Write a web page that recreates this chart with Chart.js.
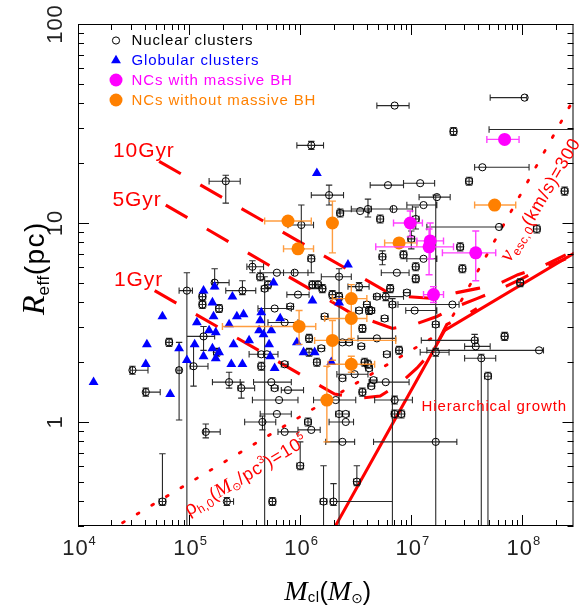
<!DOCTYPE html>
<html>
<head>
<meta charset="utf-8">
<title>Nuclear and globular clusters: size versus mass</title>
<script src="https://cdn.jsdelivr.net/npm/chart.js@4.4.1/dist/chart.umd.min.js"></script>
<style>
  html, body { margin: 0; padding: 0; background: #fff; }
  canvas { display: block; }
</style>
</head>
<body>
<canvas id="chart" width="580" height="615"></canvas>
<script>
// ---- Data: log10 of cluster mass (Msun) and effective radius (pc); errors in dex ----

// Nuclear clusters
const ncLogM = [4.49, 4.61, 4.76, 4.82, 4.91, 4.98, 5.04, 5.13, 5.12, 5.12,
  5.15, 5.23, 5.27, 5.25, 5.33, 5.34, 5.36, 5.47, 5.48, 5.57,
  5.64, 5.68, 5.71, 5.65, 5.70, 5.65, 5.66, 5.74, 5.77, 5.75,
  5.77, 5.79, 5.79, 5.81, 5.86, 5.86, 5.86, 5.89, 5.91, 5.95,
  5.98, 6.01, 6.00, 6.07, 6.10, 6.08, 6.08, 6.15, 6.10, 6.10,
  6.11, 6.16, 6.20, 6.19, 6.22, 6.21, 6.26, 6.29, 6.30, 6.32,
  6.35, 6.35, 6.35, 6.41, 6.36, 6.38, 6.38, 6.44, 6.38, 6.41,
  6.49, 6.51, 6.53, 6.54, 6.53, 6.62, 6.55, 6.56, 6.56, 6.58,
  6.61, 6.60, 6.61, 6.62, 6.64, 6.64, 6.66, 6.69, 6.69, 6.72,
  6.74, 6.76, 6.77, 6.77, 6.78, 6.79, 6.81, 6.84, 6.83, 6.85,
  6.85, 6.91, 6.85, 6.87, 6.89, 6.93, 6.96, 7.00, 7.03, 7.04,
  7.04, 7.04, 7.08, 7.11, 7.11, 7.23, 7.22, 7.22, 7.22, 7.37,
  7.38, 7.44, 7.46, 7.52, 7.57, 7.58, 7.63, 7.64, 7.69, 7.79,
  7.84, 7.98, 8.02, 8.13, 8.15, 8.38, 8.60];
const ncLogR = [0.26, 0.15, -0.40, 0.40, 0.26, 0.66, 0.28, 0.43, 0.63, 0.59,
  -0.05, 0.70, 0.57, 0.35, 1.21, -0.40, 0.20, 0.17, 0.66, 0.78,
  0.73, 0.67, 0.69, 0.34, 0.34, 0.28, 0.00, 0.20, 0.17, -0.40,
  0.57, 0.75, 0.04, 0.11, 0.50, 0.29, -0.05, 0.16, 0.58, 0.75,
  0.64, 0.99, -0.22, 0.00, -0.04, 0.42, 0.35, 0.30, 1.39, 0.82,
  0.69, 0.69, 0.67, 0.37, 0.53, -0.40, 1.14, 0.64, -0.40, 0.11,
  0.73, 0.63, 0.04, 0.04, 1.05, -0.10, 0.40, 0.40, 0.22, 0.00,
  0.24, -0.30, 0.68, 1.06, 0.56, 0.56, 0.38, 0.47, 0.15, 0.30,
  0.29, 0.59, 1.07, 0.27, 0.56, 0.18, 0.21, 0.63, 0.42, 1.02,
  0.83, 0.52, 0.63, 0.20, 0.34, 1.19, 0.67, 1.07, 0.59, 0.11,
  0.04, 0.04, 1.59, 0.75, 0.36, 0.84, 0.65, 0.92, 0.56, 1.02,
  0.78, 0.72, 1.20, 1.09, 0.82, 1.13, 0.49, 0.35, -0.10, 0.59,
  1.46, 0.88, 0.77, 1.21, 0.41, 0.38, 0.32, 1.28, 0.23, 0.98,
  0.43, 0.70, 1.63, 0.97, 0.36, 1.16, 1.47];
const ncErrMLo = [.02, .02, .03, .03, .02, .07, .03, .15, .03, .03,
  .02, .02, .03, .03, .15, .02, .15, .03, .15, .05,
  .03, .03, .03, .03, .16, .03, .16, .16, .03, .03,
  .15, .15, .15, .24, .15, .03, .06, .06, .03, .10,
  .10, .12, .03, .03, .12, .03, .03, .03, .13, .03,
  .03, .03, .03, .03, .03, .03, .16, .03, .03, .20,
  .16, .03, .03, .03, .03, .15, .03, .03, .03, .15,
  .16, .03, .10, .19, .03, .03, .03, .03, .03, .03,
  .03, .03, .15, .03, .03, .03, .03, .03, .17, .03,
  .03, .03, .09, .15, .03, .16, .03, .20, .03, .18,
  .03, .03, .16, .14, .03, .03, .03, .03, .08, .03,
  .03, .03, .15, .15, .15, .16, .03, .14, .56, .49,
  .03, .03, .03, .03, .48, .10, .15, .07, .03, .65,
  .03, .03, .31, .03, 1.01, .03, .90];
const ncErrMHi = [.14, .13, .03, .03, .02, .05, .13, .10, .03, .03,
  .13, .13, .03, .03, .13, .06, .10, .12, .12, .10,
  .03, .03, .03, .03, .10, .03, .12, .18, .03, .03,
  .15, .15, .13, .17, .12, .03, .12, .14, .03, .12,
  .10, .11, .03, .03, .08, .03, .03, .03, .11, .03,
  .03, .03, .03, .03, .03, .03, .13, .03, .53, .18,
  .11, .03, .03, .03, .03, .11, .03, .03, .03, .07,
  .12, .03, .09, .08, .03, .03, .03, .03, .03, .03,
  .03, .03, .22, .03, .03, .03, .03, .03, .17, .03,
  .03, .03, .16, .21, .03, .14, .03, .17, .03, .16,
  .03, .03, .13, .11, .03, .03, .03, .03, .20, .03,
  .03, .03, .13, .12, .12, .12, .03, .12, .19, .06,
  .03, .03, .03, .03, .03, .13, .13, .42, .03, .02,
  .03, .03, .02, .03, .04, .03, .02];
const ncErrRLo = [.02, .02, .02, .02, .25, 1.5, .10, .07, .02, .02,
  .03, .03, .02, .02, .11, .02, .03, .05, .02, .03,
  .02, 1.5, .02, 0, 0, .02, .04, 0, 0, .02,
  0, 0, 0, 0, 0, 0, 0, 0, 0, 0,
  0, .12, .02, .02, 0, .02, .02, .02, .02, .07,
  .02, .02, .02, 0, 0, .30, .05, .02, .02, 0,
  1.5, .02, 0, 0, .02, 0, 0, 0, 0, 0,
  0, .02, .02, 0, 0, .02, 0, .02, .02, .02,
  .02, 0, .04, 0, 0, 0, 0, 0, 0, .02,
  .04, 0, .02, 0, 0, 0, .02, 0, 1.5, .02,
  .02, .02, 0, 0, .02, .02, 0, .05, 0, .05,
  .02, .02, 0, 0, 0, 0, 1.5, .02, 0, 0,
  .02, .02, .02, .02, .03, 0, 1.5, 0, 1.5, 0,
  .02, .02, 0, .02, 0, .02, 0];
const ncErrRHi = [.02, .02, .24, .02, .14, .09, .10, .05, .02, .02,
  .04, .07, .02, .02, .03, .02, .05, .03, .05, .03,
  .02, .06, .02, 0, 0, .02, .03, 0, 0, .02,
  0, 0, 0, 0, 0, 0, 0, 0, 0, 0,
  0, .10, .12, .02, 0, .02, .02, .02, .02, .02,
  .02, .02, .02, 0, 0, .18, .05, .02, .09, 0,
  .04, .02, 0, 0, .02, 0, 0, 0, 0, 0,
  0, .08, .02, 0, 0, .02, 0, .02, .02, .02,
  .02, 0, .05, 0, 0, 0, 0, 0, 0, .02,
  .03, 0, .02, 0, 0, 0, .02, 0, .03, .02,
  .02, .02, 0, 0, .02, .02, 0, .04, 0, .06,
  .02, .02, 0, 0, 0, 0, .65, .02, 0, 0,
  .02, .02, .02, .02, .03, 0, .02, 0, .02, 0,
  .02, .02, 0, .02, 0, .02, 0];

// Globular clusters
const gcLogM = [4.14, 4.76, 4.62, 4.61, 4.83, 4.91, 4.98, 5.05, 5.07, 5.13,
  5.23, 5.21, 5.22, 5.18, 5.24, 5.13, 5.21, 5.27, 5.24, 5.39,
  5.36, 5.43, 5.49, 5.40, 5.54, 5.38, 5.48, 5.65, 5.64, 5.63,
  5.67, 5.74, 5.72, 5.73, 5.77, 5.82, 5.76, 6.03, 6.13, 5.97,
  6.11, 6.35, 6.28, 6.43, 6.15];
const gcLogR = [0.20, 0.53, 0.39, 0.29, 0.14, 0.37, 0.31, 0.39, 0.50, 0.66,
  0.68, 0.60, 0.53, 0.46, 0.45, 0.33, 0.37, 0.35, 0.32, 0.63,
  0.49, 0.53, 0.54, 0.39, 0.41, 0.29, 0.29, 0.55, 0.51, 0.46,
  0.44, 0.46, 0.39, 0.33, 0.27, 0.52, 0.70, 0.35, 0.35, 0.40,
  0.61, 0.60, 0.30, 0.79, 1.25];

// NCs hosting a massive black hole
const bhLogM = [7.84, 6.99, 7.17, 7.16, 7.58, 7.20];
const bhLogR = [1.42, 1.00, 0.91, 0.88, 0.85, 0.64];
const bhErrMLo = [0.16, 0.15, 0.12, 0.48, 0.30, 0.09];
const bhErrMHi = [0.13, 0.11, 0.12, 0.22, 0.18, 0.09];
const bhErrRLo = [0.02, 0.07, 0.09, 0.14, 0.14, 0.04];
const bhErrRHi = [0.02, 0.06, 0.09, 0.09, 0.11, 0.04];

// NCs without a massive black hole
const nbLogM = [5.89, 6.29, 5.98, 6.89, 7.75, 6.46, 6.46, 5.99, 6.29, 6.46, 6.24];
const nbLogR = [1.01, 1.00, 0.87, 0.90, 1.09, 0.62, 0.52, 0.48, 0.41, 0.29, 0.11];
const nbErrMLo = [0.21, 0.02, 0.13, 0.13, 0.18, 0.17, 0.24, 0.69, 0.16, 0.21, 0.02];
const nbErrMHi = [0.21, 0.02, 0.14, 0.16, 0.19, 0.14, 0.14, 0.15, 0.57, 0.21, 0.02];
const nbErrRLo = [0.02, 0.15, 0.02, 0.02, 0.02, 0.07, 0.10, 0.09, 0.10, 0.04, 0.21];
const nbErrRHi = [0.02, 0.11, 0.02, 0.02, 0.02, 0.07, 0.10, 0.08, 0.10, 0.04, 0.17];

// Relaxation-time tracks (1, 5, 10 Gyr)
const t10LogM = [4.73, 6.76, 6.96, 7.21, 7.41, 7.59, 7.77, 7.96, 8.17, 8.39];
const t10LogR = [1.31, 0.66, 0.63, 0.62, 0.65, 0.67, 0.69, 0.74, 0.78, 0.84];
const t5LogM = [4.79, 6.45, 6.63, 6.83, 7.03, 7.23, 7.41, 7.59, 7.77, 7.96, 8.17, 8.39];
const t5LogR = [1.09, 0.55, 0.51, 0.47, 0.49, 0.53, 0.58, 0.62, 0.66, 0.71, 0.77, 0.82];
const t1LogM = [4.69, 6.31, 6.54, 6.72, 6.89, 7.05, 7.21, 7.32, 7.50, 7.59];
const t1LogR = [0.66, 0.14, 0.12, 0.13, 0.19, 0.27, 0.37, 0.49, 0.54, 0.57];

// Hierarchical growth path, constant-density and constant-escape-velocity lines
const hierLogM = [6.29, 7.30, 8.50];
const hierLogR = [-0.55, 0.46, 0.86];
const rhoLogM = [4.27, 7.30];
const rhoLogR = [-0.55, 0.46];
const vescLogM = [7.30, 8.50];
const vescLogR = [0.46, 1.66];

// Axis decades
const xDecades = [4, 5, 6, 7, 8];
const yDecades = [0, 1, 2];

// ---- Drawing ----
const SANS = '"Liberation Sans", Arial, Helvetica, sans-serif';
const SERIF = '"Liberation Serif", "Times New Roman", serif';
const SYM = '"DejaVu Sans", sans-serif';
const RED = '#ff0000';

const pts = (lm, lr) => lm.map((m, i) => ({ x: Math.pow(10, m), y: Math.pow(10, lr[i]) }));

function lineSet(label, lm, lr, style) {
  return Object.assign({
    type: 'scatter', label, data: pts(lm, lr), showLine: true,
    pointRadius: 0, borderColor: RED, backgroundColor: RED,
    fill: false, tension: 0, clip: 0, order: 6
  }, style);
}

const errorBarPlugin = {
  id: 'errorBars',
  beforeDatasetDraw(chart, args) {
    const ds = chart.data.datasets[args.index];
    const e = ds.errorBars;
    if (!e) return;
    const { ctx, chartArea: a } = chart;
    const xs = chart.scales.x, ys = chart.scales.y;
    ctx.save();
    ctx.beginPath();
    ctx.rect(a.left, a.top, a.right - a.left, a.bottom - a.top);
    ctx.clip();
    ctx.strokeStyle = e.color;
    ctx.lineWidth = e.width;
    ctx.beginPath();
    const c = e.cap;
    ds.data.forEach((p, i) => {
      const lm = Math.log10(p.x), lr = Math.log10(p.y);
      const px = xs.getPixelForValue(p.x), py = ys.getPixelForValue(p.y);
      if (e.mLo[i] > 0 || e.mHi[i] > 0) {
        const x0 = xs.getPixelForValue(Math.pow(10, lm - e.mLo[i]));
        const x1 = xs.getPixelForValue(Math.pow(10, lm + e.mHi[i]));
        ctx.moveTo(x0, py); ctx.lineTo(x1, py);
        ctx.moveTo(x0, py - c); ctx.lineTo(x0, py + c);
        ctx.moveTo(x1, py - c); ctx.lineTo(x1, py + c);
      }
      if (e.rLo[i] > 0 || e.rHi[i] > 0) {
        const y0 = ys.getPixelForValue(Math.pow(10, lr - e.rLo[i]));
        const y1 = ys.getPixelForValue(Math.pow(10, lr + e.rHi[i]));
        ctx.moveTo(px, y0); ctx.lineTo(px, y1);
        ctx.moveTo(px - c, y0); ctx.lineTo(px + c, y0);
        ctx.moveTo(px - c, y1); ctx.lineTo(px + c, y1);
      }
    });
    ctx.stroke();
    ctx.restore();
  }
};

// text made of runs with different fonts / offsets
function runsWidth(ctx, runs) {
  let w = 0;
  for (const r of runs) {
    ctx.font = r.font; ctx.letterSpacing = r.ls || '0px';
    w += ctx.measureText(r.t).width;
  }
  return w;
}
function drawRuns(ctx, runs, x, y) {
  let cx = x;
  for (const r of runs) {
    ctx.font = r.font; ctx.letterSpacing = r.ls || '0px';
    ctx.fillText(r.t, cx, y + (r.dy || 0));
    cx += ctx.measureText(r.t).width;
  }
  ctx.letterSpacing = '0px';
}

const decorPlugin = {
  id: 'decor',
  afterDraw(chart) {
    const { ctx, chartArea: a } = chart;
    const xs = chart.scales.x, ys = chart.scales.y;
    ctx.save();

    // frame
    ctx.strokeStyle = '#000';
    ctx.lineWidth = 1;
    ctx.strokeRect(a.left + 0.5, a.top + 0.5, a.right - a.left - 1, a.bottom - a.top - 1);

    // inward ticks on all four sides
    ctx.beginPath();
    for (let e = 3; e <= 9; e++) {
      for (let k = 1; k <= 9; k++) {
        const v = k * Math.pow(10, e);
        if (v < xs.min * 0.999 || v > xs.max) continue;
        const px = Math.round(xs.getPixelForValue(v)) + 0.5;
        const len = k === 1 ? 11 : 6;
        ctx.moveTo(px, a.bottom); ctx.lineTo(px, a.bottom - len);
        ctx.moveTo(px, a.top); ctx.lineTo(px, a.top + len);
      }
    }
    for (let e = -1; e <= 2; e++) {
      for (let k = 1; k <= 9; k++) {
        const v = k * Math.pow(10, e);
        if (v < ys.min || v > ys.max * 1.001) continue;
        const py = Math.round(ys.getPixelForValue(v)) + 0.5;
        const len = k === 1 ? 11 : 6;
        ctx.moveTo(a.left, py); ctx.lineTo(a.left + len, py);
        ctx.moveTo(a.right, py); ctx.lineTo(a.right - len, py);
      }
    }
    ctx.stroke();

    // tick labels
    ctx.fillStyle = '#222';
    ctx.textBaseline = 'alphabetic';
    ctx.textAlign = 'left';
    for (const e of xDecades) {
      const px = xs.getPixelForValue(Math.pow(10, e));
      const runs = [
        { t: '10', font: '22px ' + SANS, ls: '1px' },
        { t: String(e), font: '13px ' + SANS, dy: -10 }
      ];
      const w = runsWidth(ctx, runs);
      drawRuns(ctx, runs, px - w / 2 + 1, 555);
    }
    ctx.font = '22px ' + SANS;
    ctx.letterSpacing = '1px';
    ctx.textAlign = 'center';
    for (const e of yDecades) {
      const py = ys.getPixelForValue(Math.pow(10, e));
      ctx.save();
      ctx.translate(61.5, py);
      ctx.rotate(-Math.PI / 2);
      ctx.fillText(String(Math.pow(10, e)), 0, 0);
      ctx.restore();
    }
    ctx.letterSpacing = '0px';
    ctx.textAlign = 'left';

    // axis titles
    ctx.fillStyle = '#000';
    const xt = [
      { t: 'M', font: 'italic 28px ' + SERIF },
      { t: 'cl', font: '15px ' + SANS, dy: 2, ls: '0.5px' },
      { t: '(', font: '25px ' + SANS },
      { t: 'M', font: 'italic 28px ' + SERIF },
      { t: '\u2299', font: '14px ' + SYM, dy: 3 },
      { t: ')', font: '25px ' + SANS }
    ];
    const xw = runsWidth(ctx, xt);
    drawRuns(ctx, xt, (a.left + a.right) / 2 - xw / 2 + 2, 600);

    const yt = [
      { t: 'R', font: 'italic 32px ' + SERIF },
      { t: 'eff', font: '17px ' + SANS, dy: 5, ls: '0.5px' },
      { t: '(pc)', font: '28px ' + SANS, ls: '1.5px' }
    ];
    const yw = runsWidth(ctx, yt);
    ctx.save();
    ctx.translate(44, 268);
    ctx.rotate(-Math.PI / 2);
    drawRuns(ctx, yt, -yw / 2, 0);
    ctx.restore();

    // legend
    const lx = 116;
    ctx.lineWidth = 1;
    ctx.strokeStyle = '#000';
    ctx.beginPath(); ctx.arc(lx, 40.5, 3.6, 0, Math.PI * 2); ctx.stroke();
    ctx.fillStyle = '#0000ff';
    ctx.beginPath();
    ctx.moveTo(lx, 60.5 - 5.7);
    ctx.lineTo(lx + 4.94, 60.5 + 2.85);
    ctx.lineTo(lx - 4.94, 60.5 + 2.85);
    ctx.closePath(); ctx.fill();
    ctx.fillStyle = '#ff00ff';
    ctx.beginPath(); ctx.arc(lx, 80, 6.5, 0, Math.PI * 2); ctx.fill();
    ctx.fillStyle = '#ff8000';
    ctx.beginPath(); ctx.arc(lx, 100, 6.5, 0, Math.PI * 2); ctx.fill();

    const legend = [
      ['Nuclear clusters', '#000000', 45],
      ['Globular clusters', '#0000ff', 65],
      ['NCs with massive BH', '#ff00ff', 85],
      ['NCs without massive BH', '#ff8000', 105]
    ];
    ctx.font = '15px ' + SANS;
    ctx.letterSpacing = '0.9px';
    for (const [t, col, y] of legend) {
      ctx.fillStyle = col;
      ctx.fillText(t, 131.5, y);
    }

    // track labels
    ctx.fillStyle = RED;
    ctx.font = '21px ' + SANS;
    ctx.fillText('10Gyr', 113, 157);
    ctx.fillText('5Gyr', 112.5, 205.5);
    ctx.fillText('1Gyr', 114, 286);
    ctx.font = '15px ' + SANS;
    ctx.fillText('Hierarchical growth', 421.5, 410.7);
    ctx.letterSpacing = '0px';

    // labels along the dotted lines
    const vrun = [
      { t: 'v', font: 'italic 22px ' + SERIF },
      { t: 'esc,0', font: '12px ' + SANS, dy: 4, ls: '0.6px' },
      { t: '(km/s)=300', font: '18px ' + SANS, ls: '0.8px' }
    ];
    ctx.save();
    ctx.translate(510, 263);
    ctx.rotate(-59.5 * Math.PI / 180);
    drawRuns(ctx, vrun, 0, 0);
    ctx.restore();

    const rrun = [
      { t: '\u03c1', font: '19px ' + SANS },
      { t: 'h,0', font: '12px ' + SANS, dy: 4, ls: '0.5px' },
      { t: '(', font: '18px ' + SANS },
      { t: 'M', font: 'italic 20px ' + SERIF },
      { t: '\u2299', font: '11px ' + SYM, dy: 3 },
      { t: '/pc', font: '18px ' + SANS, ls: '0.8px' },
      { t: '3', font: '11px ' + SANS, dy: -8 },
      { t: ')=10', font: '18px ' + SANS, ls: '0.8px' },
      { t: '5', font: '11px ' + SANS, dy: -8 }
    ];
    ctx.save();
    ctx.translate(189, 516);
    ctx.rotate(-31 * Math.PI / 180);
    drawRuns(ctx, rrun, 0, 0);
    ctx.restore();

    ctx.restore();
  }
};

const errStyle = (mLo, mHi, rLo, rHi, color, width, cap) => ({ mLo, mHi, rLo, rHi, color, width, cap });

const datasets = [
  {
    label: 'NCs with massive BH', data: pts(bhLogM, bhLogR), order: 0,
    pointStyle: 'circle', pointRadius: 6.5, borderWidth: 0,
    backgroundColor: '#ff00ff', borderColor: '#ff00ff',
    errorBars: errStyle(bhErrMLo, bhErrMHi, bhErrRLo, bhErrRHi, '#ff40ff', 1.4, 3.5)
  },
  {
    label: 'NCs without massive BH', data: pts(nbLogM, nbLogR), order: 1,
    pointStyle: 'circle', pointRadius: 6.5, borderWidth: 0,
    backgroundColor: '#ff8000', borderColor: '#ff8000',
    errorBars: errStyle(nbErrMLo, nbErrMHi, nbErrRLo, nbErrRHi, 'rgba(255,140,30,0.85)', 1.4, 3.5)
  },
  {
    label: 'Globular clusters', data: pts(gcLogM, gcLogR), order: 2,
    pointStyle: 'triangle', pointRadius: 5.7, borderWidth: 0,
    backgroundColor: '#0000ff', borderColor: '#0000ff'
  },
  {
    label: 'Nuclear clusters', data: pts(ncLogM, ncLogR), order: 3,
    pointStyle: 'circle', pointRadius: 3.6, borderWidth: 1,
    backgroundColor: 'rgba(0,0,0,0)', borderColor: '#000',
    errorBars: errStyle(ncErrMLo, ncErrMHi, ncErrRLo, ncErrRHi, '#2a2a2a', 1.1, 3.2)
  },
  lineSet('10 Gyr', t10LogM, t10LogR, { borderWidth: 3.1, borderDash: [25, 22.5] }),
  lineSet('5 Gyr', t5LogM, t5LogR, { borderWidth: 3.1, borderDash: [25, 22.5] }),
  lineSet('1 Gyr', t1LogM, t1LogR, { borderWidth: 3.1, borderDash: [25, 22.5] }),
  lineSet('Hierarchical growth', hierLogM, hierLogR, { borderWidth: 3 }),
  lineSet('rho_h,0 = 1e5', rhoLogM, rhoLogR, { borderWidth: 2.8, borderDash: [2, 15], borderCapStyle: 'round' }),
  lineSet('v_esc,0 = 300', vescLogM, vescLogR, { borderWidth: 2.8, borderDash: [2, 15], borderCapStyle: 'round' })
];

new Chart(document.getElementById('chart'), {
  type: 'scatter',
  data: { datasets },
  options: {
    responsive: false,
    devicePixelRatio: 1,
    animation: false,
    events: [],
    layout: { padding: { left: 78, right: 2, top: 24, bottom: 89 } },
    plugins: { legend: { display: false }, tooltip: { enabled: false } },
    scales: {
      x: { type: 'logarithmic', min: 1e4, max: Math.pow(10, 8.46), display: false },
      y: { type: 'logarithmic', min: Math.pow(10, -0.5), max: 100, display: false }
    }
  },
  plugins: [errorBarPlugin, decorPlugin]
});
</script>
</body>
</html>
